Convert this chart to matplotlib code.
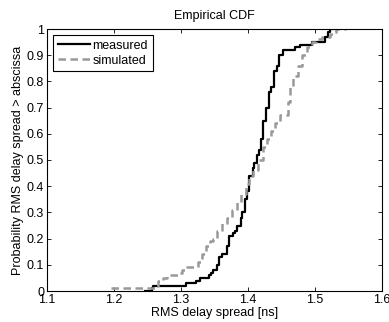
import matplotlib
matplotlib.use("Agg")
import matplotlib.pyplot as plt

plt.rcParams['font.family'] = ['Liberation Sans', 'DejaVu Sans']
plt.rcParams['font.size'] = 9

measured_x = [1.247, 1.256, 1.258, 1.308, 1.316, 1.323, 1.328, 1.342, 1.345, 1.348, 1.353,
              1.357, 1.361, 1.366, 1.369, 1.372, 1.377, 1.381, 1.384, 1.389, 1.391, 1.396,
              1.398, 1.402, 1.407, 1.409, 1.413, 1.417, 1.420, 1.423, 1.427, 1.431, 1.435,
              1.439, 1.443, 1.447, 1.452, 1.470, 1.473, 1.478, 1.490, 1.495, 1.512, 1.515,
              1.520, 1.522, 1.527]
measured_y = [0.0, 0.01, 0.02, 0.03, 0.03, 0.04, 0.05, 0.06, 0.07, 0.08, 0.10,
              0.13, 0.14, 0.14, 0.17, 0.21, 0.22, 0.23, 0.25, 0.28, 0.30, 0.35,
              0.38, 0.44, 0.47, 0.49, 0.52, 0.54, 0.58, 0.65, 0.70, 0.76, 0.78,
              0.84, 0.86, 0.90, 0.92, 0.93, 0.93, 0.94, 0.94, 0.95, 0.95, 0.97,
              0.99, 1.0, 1.0]

simulated_x = [1.196, 1.250, 1.261, 1.266, 1.273, 1.279, 1.294, 1.297, 1.302, 1.308, 1.326,
               1.331, 1.337, 1.343, 1.348, 1.353, 1.361, 1.368, 1.376, 1.383, 1.389, 1.397,
               1.401, 1.407, 1.415, 1.423, 1.428, 1.435, 1.440, 1.448, 1.455, 1.459, 1.463,
               1.467, 1.475, 1.480, 1.488, 1.495, 1.502, 1.510, 1.522, 1.527, 1.532, 1.547]
simulated_y = [0.01, 0.01, 0.02, 0.04, 0.05, 0.06, 0.06, 0.07, 0.08, 0.09, 0.11,
               0.14, 0.17, 0.19, 0.20, 0.23, 0.26, 0.28, 0.31, 0.34, 0.37, 0.41,
               0.44, 0.46, 0.50, 0.55, 0.58, 0.61, 0.64, 0.67, 0.67, 0.72, 0.78,
               0.82, 0.86, 0.90, 0.93, 0.95, 0.96, 0.97, 0.98, 0.99, 1.0, 1.0]

x_ticks = [1.1, 1.2, 1.3, 1.4, 1.5, 1.6]
y_ticks = [0, 0.1, 0.2, 0.3, 0.4, 0.5, 0.6, 0.7, 0.8, 0.9, 1]

fig = plt.figure(figsize=(3.89, 3.22), dpi=100)
ax = fig.add_axes([47/389, 1 - 291/322, (382-47)/389, (291-29)/322])

ax.plot(measured_x, measured_y, drawstyle='steps-post', color='black', lw=1.6, label='measured')
ax.plot(simulated_x, simulated_y, drawstyle='steps-post', color='#999999', lw=1.8,
        linestyle=(0, (3, 1.8)), label='simulated')

ax.set_xlim(1.1, 1.6)
ax.set_ylim(0, 1)
ax.set_xticks(x_ticks)
ax.set_xticklabels(['1.1', '1.2', '1.3', '1.4', '1.5', '1.6'])
ax.set_yticks(y_ticks)
ax.set_yticklabels(['0', '0.1', '0.2', '0.3', '0.4', '0.5', '0.6', '0.7', '0.8', '0.9', '1'])
ax.tick_params(direction='in', top=True, right=True, length=3, width=0.6, pad=2, labelsize=9)
for s in ax.spines.values():
    s.set_linewidth(0.8)

ax.set_title('Empirical CDF', fontsize=9, pad=7)
ax.set_xlabel('RMS delay spread [ns]', fontsize=9, labelpad=1)
ax.set_ylabel('Probability RMS delay spread > abscissa', fontsize=9, labelpad=2)

leg = ax.legend(loc='upper left', fancybox=False, framealpha=1, edgecolor='black',
                fontsize=9, handlelength=2.6, borderpad=0.35, labelspacing=0.25,
                handletextpad=0.2, borderaxespad=0.5)
leg.get_frame().set_linewidth(0.8)

fig.savefig('out.png', dpi=100)
